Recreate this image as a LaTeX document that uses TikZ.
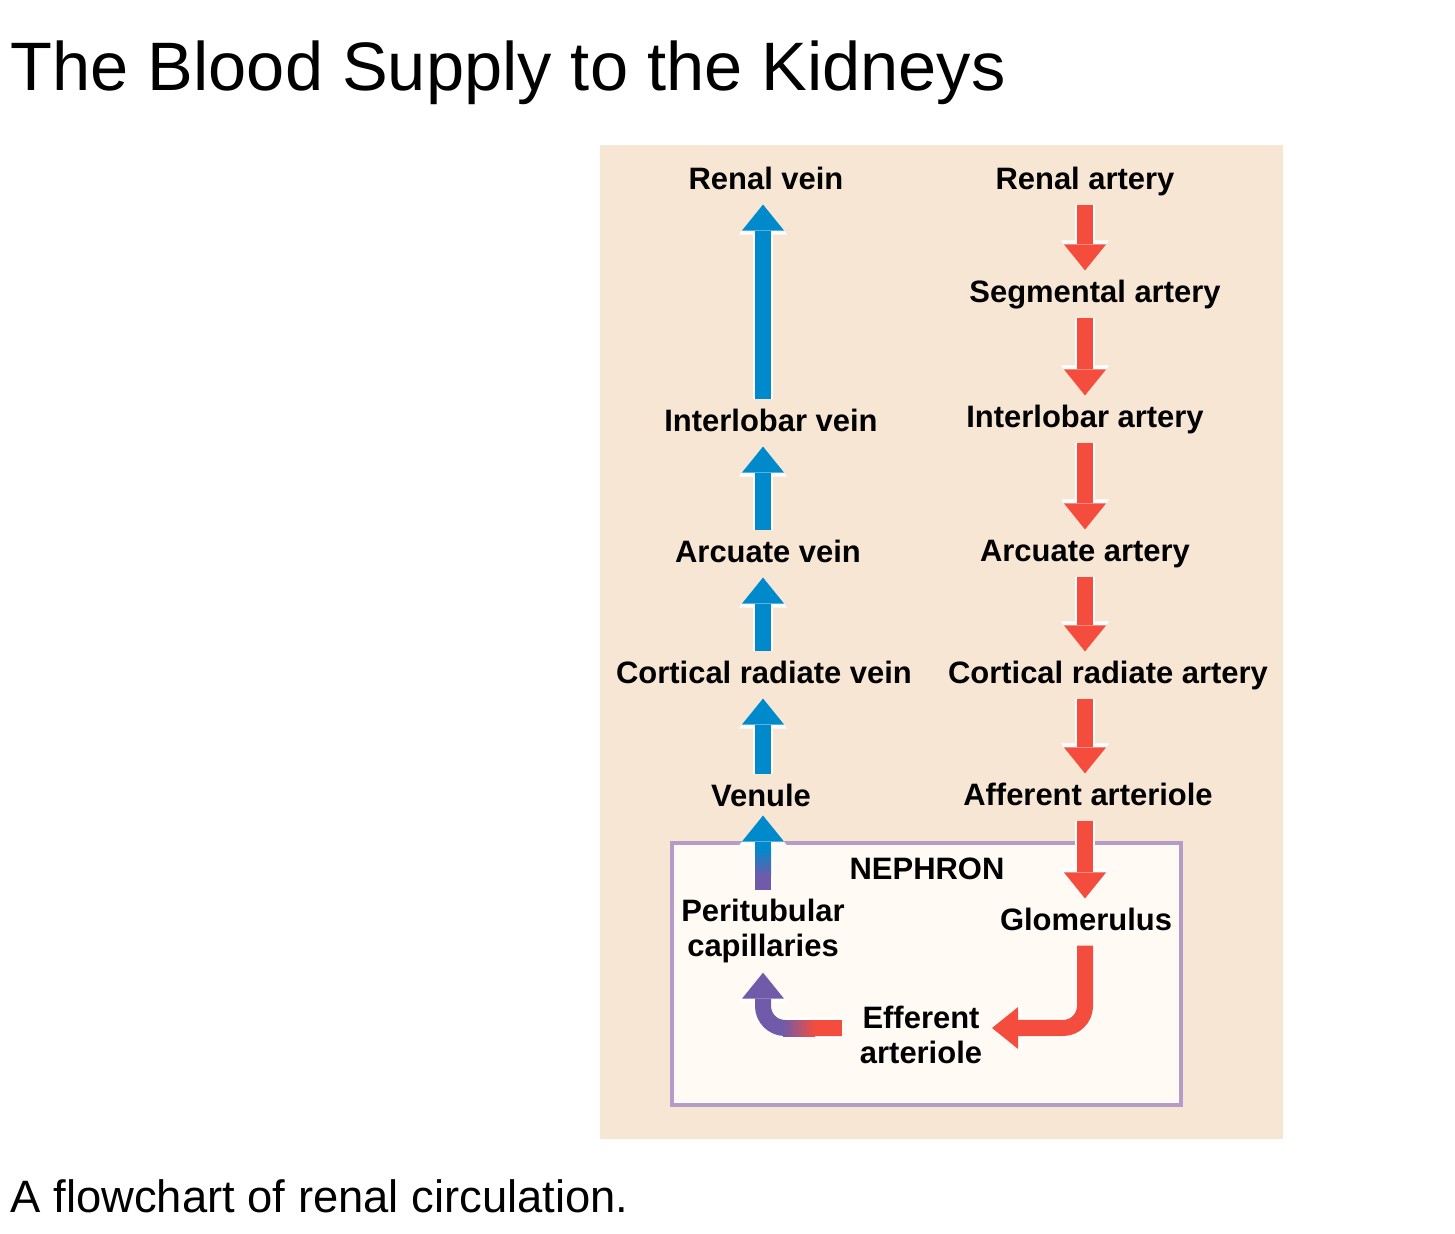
\documentclass[tikz,border=0pt]{standalone}
\usepackage{fontspec}
\setmainfont{Liberation Sans}
\usetikzlibrary{arrows.meta}
\usetikzlibrary{positioning}
\definecolor{panelbg}{RGB}{248,230,212}
\definecolor{nephfill}{RGB}{255,250,244}
\definecolor{nephborder}{RGB}{180,155,200}
\definecolor{flowblue}{RGB}{0,138,204}
\definecolor{flowred}{RGB}{245,77,61}
\definecolor{flowpurple}{RGB}{111,91,170}

\begin{document}
\begin{tikzpicture}[x=0.01cm,y=-0.01cm]
  \tikzset{lbl/.style = {font=\fontsize{8.8}{9.6}\selectfont\bfseries, inner sep=0pt, outer sep=0.1cm, text height=0.22cm, text depth=0.05cm}}
  \tikzset{lbltwo/.style = {font=\fontsize{8.8}{9.8}\selectfont\bfseries, inner sep=0pt, outer sep=0.1cm, align=center}}
  \tikzset{%
  flowtip/.tip={Triangle[width=0.42cm,length=0.26cm,line width=0pt]},
  edgetip/.tip={Triangle[width=0.48cm,length=0.30cm,line width=0pt]},
  }
  \tikzset{flow/.style = {line width=0.16cm, -flowtip, preaction={draw=white, line width=0.2cm, -edgetip}}}
  \tikzset{vein/.style = {flow, draw=flowblue}}
  \tikzset{artery/.style = {flow, draw=flowred}}
  \tikzset{mixed/.style = {flow, draw=flowpurple}}

  \useasboundingbox (0,0) rectangle (1455,1234);

  \node[anchor=base west, inner sep=0pt, font=\fontsize{19.5}{23}\selectfont] (title) at (10,91) {The Blood Supply to the Kidneys};
  \node[anchor=base west, inner sep=0pt, font=\fontsize{12.9}{15}\selectfont] (caption) at (10,1212) {A flowchart of renal circulation.};

  \fill[panelbg] (600,145) rectangle (1283,1139);
  \draw[nephborder, fill=nephfill, line width=0.035cm] (672,843) rectangle (1181,1105);

  \coordinate (vcol) at (763,0);
  \coordinate (acol) at (1085,0);

	\node[lbl] (RV) at (766,181) {Renal vein};
	\node[lbl] (RA) at (1085,181) {Renal artery};
	\node[lbl] (SA) at (1095,294) {Segmental artery};
	\node[lbl] (ILV) at (771,423) {Interlobar vein};
	\node[lbl] (ILA) at (1085,419) {Interlobar artery};
	\node[lbl] (AV) at (768,554) {Arcuate vein};
	\node[lbl] (AA) at (1085,553) {Arcuate artery};
	\node[lbl] (CRV) at (764,675) {Cortical radiate vein};
	\node[lbl] (CRA) at (1108,675) {Cortical radiate artery};
	\node[lbl] (VN) at (761,798) {Venule};
	\node[lbl] (AFA) at (1088,797) {Afferent arteriole};
	\node[lbl] (NP) at (927,871) {NEPHRON};
	\node[lbl] (GL) at (1086,922) {Glomerulus};
	\node[lbltwo] (PC) at (763,931) {Peritubular\\capillaries};
	\node[lbltwo] (EA) at (921,1035) {Efferent\\arteriole};

    \foreach \from/\to in {ILV/RV, AV/ILV, CRV/AV, VN/CRV}
    \draw[vein] (\from.north -| vcol) -- (\to.south -| vcol);

    \foreach \from/\to in {RA/SA, SA/ILA, ILA/AA, AA/CRA, CRA/AFA, AFA/GL}
    \draw[artery] (\from.south -| acol) -- (\to.north -| acol);

    % inside the nephron
    \draw[vein] (PC.north -| vcol) -- ([yshift=0.06cm]VN.south -| vcol);
    \shade[top color=flowblue, bottom color=flowpurple] (755,848) rectangle (771,876);
    \fill[flowpurple] (755,876) rectangle (771,889.5);

    \draw[artery, rounded corners=0.22cm] (GL.south -| acol) |- ([yshift=0.07cm]EA.east);
    \draw[mixed, rounded corners=0.22cm] ([shift={(-8,-7)}]EA.west) -| (PC.south -| vcol);
    \shade[left color=flowpurple, right color=flowred] (783,1020) rectangle (815,1036);
    \fill[flowred] (815,1020) rectangle (842,1036);

\end{tikzpicture}
\end{document}
